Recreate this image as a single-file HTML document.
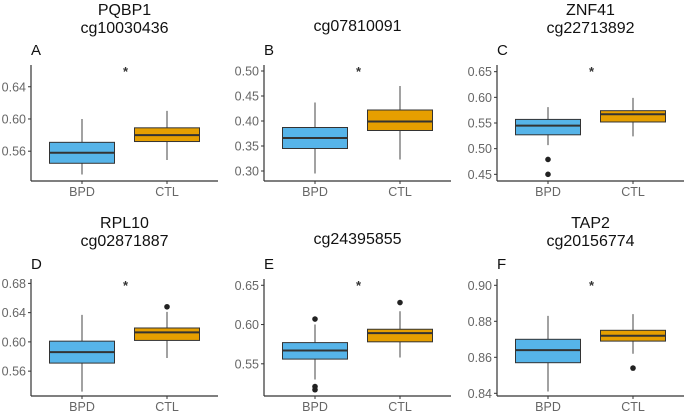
<!DOCTYPE html>
<html><head><meta charset="utf-8"><style>
body{margin:0;background:#fff;}
svg{display:block;font-family:"Liberation Sans",Arial,sans-serif;}
</style></head><body>
<svg id="c" width="685" height="413" viewBox="0 0 685 413"></svg>
<script>
const panelLetters=["A","B","C","D","E","F"];
const geneNames=["PQBP1","","ZNF41","RPL10","","TAP2"];
const cpgNames=["cg10030436","cg07810091","cg22713892","cg02871887","cg24395855","cg20156774"];
const categories=["BPD","CTL"];
const yTicks=[[0.56,0.60,0.64],[0.30,0.35,0.40,0.45,0.50],[0.45,0.50,0.55,0.60,0.65],[0.56,0.60,0.64,0.68],[0.55,0.60,0.65],[0.84,0.86,0.88,0.90]];
const tickLabels=[["0.56","0.60","0.64"],["0.30","0.35","0.40","0.45","0.50"],["0.45","0.50","0.55","0.60","0.65"],["0.56","0.60","0.64","0.68"],["0.55","0.60","0.65"],["0.84","0.86","0.88","0.90"]];
const yDomains=[[0.523,0.667],[0.28,0.512],[0.437,0.663],[0.526,0.686],[0.509,0.658],[0.8385,0.9035]];
// [whiskerLow, q1, median, q3, whiskerHigh]
const bpdStats=[[0.531,0.545,0.558,0.571,0.600],[0.295,0.345,0.366,0.387,0.437],[0.507,0.527,0.545,0.557,0.581],[0.532,0.571,0.586,0.601,0.637],[0.530,0.556,0.567,0.577,0.600],[0.841,0.857,0.864,0.870,0.883]];
const ctlStats=[[0.549,0.572,0.580,0.589,0.610],[0.323,0.381,0.399,0.422,0.470],[0.524,0.552,0.567,0.574,0.599],[0.578,0.602,0.613,0.619,0.641],[0.558,0.578,0.589,0.594,0.617],[0.862,0.869,0.872,0.875,0.884]];
const bpdOutliers=[[],[],[0.479,0.450],[],[0.607,0.521,0.517],[]];
const ctlOutliers=[[],[],[],[0.648],[0.628],[0.854]];

const NS="http://www.w3.org/2000/svg";
const svg=document.getElementById("c");
function mk(tag,attrs,parent,text){const e=document.createElementNS(NS,tag);for(const k in attrs)e.setAttribute(k,attrs[k]);if(text!==undefined)e.textContent=text;(parent||svg).appendChild(e);return e;}
const colX=[31,264,497], rowTop=[65,279], rowBottom=[181,396], plotW=187;
const fills=["#56B4E9","#E69F00"];
const t1Y=[15,228], t2Y=[33,246], tSingleY=[31,244];
for(let p=0;p<6;p++){
  const col=p%3,row=Math.floor(p/3);
  const x0=colX[col],yt=rowTop[row],yb=rowBottom[row];
  const g=mk("g",{});
  
  
  const [d0,d1]=yDomains[p];
  const y=v=>yb-(v-d0)/(d1-d0)*(yb-yt);
  const xc=i=>x0+plotW*(0.6+i)/2.2;
  const cx=x0+plotW/2;
  if(geneNames[p]){
    const t1=mk("text",{x:cx,y:t1Y[row],"text-anchor":"middle","font-size":"16",fill:"#111"},g,geneNames[p]);
    
    const t2=mk("text",{x:cx,y:t2Y[row],"text-anchor":"middle","font-size":"16",fill:"#111"},g,cpgNames[p]);
    
  } else {
    const t2=mk("text",{x:cx,y:tSingleY[row],"text-anchor":"middle","font-size":"16",fill:"#111"},g,cpgNames[p]);
    
  }
  const L=mk("text",{x:x0,y:yt-10,"font-size":"15",fill:"#111"},g,panelLetters[p]);
  
  yTicks[p].forEach((v,i)=>{
    mk("line",{x1:x0-3,x2:x0,y1:y(v),y2:y(v),stroke:"#333","stroke-width":1},g);
    const tl=mk("text",{x:x0-5,y:y(v)+4.5,"text-anchor":"end","font-size":"12.5",fill:"#666"},g,tickLabels[p][i]);
    
  });
  [bpdStats[p],ctlStats[p]].forEach((s,i)=>{
    const c=xc(i),w=65;
    mk("line",{x1:c,x2:c,y1:y(s[0]),y2:y(s[4]),stroke:"#444","stroke-width":1},g);
    const r=mk("rect",{x:c-w/2,y:y(s[3]),width:w,height:y(s[1])-y(s[3]),fill:fills[i],stroke:"#333","stroke-width":1},g);
    
    mk("line",{x1:c-w/2,x2:c+w/2,y1:y(s[2]),y2:y(s[2]),stroke:"#333","stroke-width":2},g);
    mk("line",{x1:c,x2:c,y1:yb,y2:yb+3,stroke:"#333"},g);
    const cl=mk("text",{x:c,y:yb+15,"text-anchor":"middle","font-size":"12.5",fill:"#666"},g,categories[i]);
    
  });
  [bpdOutliers[p],ctlOutliers[p]].forEach((arr,i)=>arr.forEach(v=>{
    const o=mk("circle",{cx:xc(i),cy:y(v),r:2.8,fill:"#222"},g);
    
  }));
  const st=mk("text",{x:cx+1,y:yt+11,"text-anchor":"middle","font-size":"13","font-weight":"bold",fill:"#333"},g,"*");
  
  mk("line",{x1:x0,x2:x0,y1:yt,y2:yb,stroke:"#333","stroke-width":1.2},g);
  mk("line",{x1:x0,x2:x0+plotW,y1:yb,y2:yb,stroke:"#333","stroke-width":1.2},g);
}
</script>
</body></html>
